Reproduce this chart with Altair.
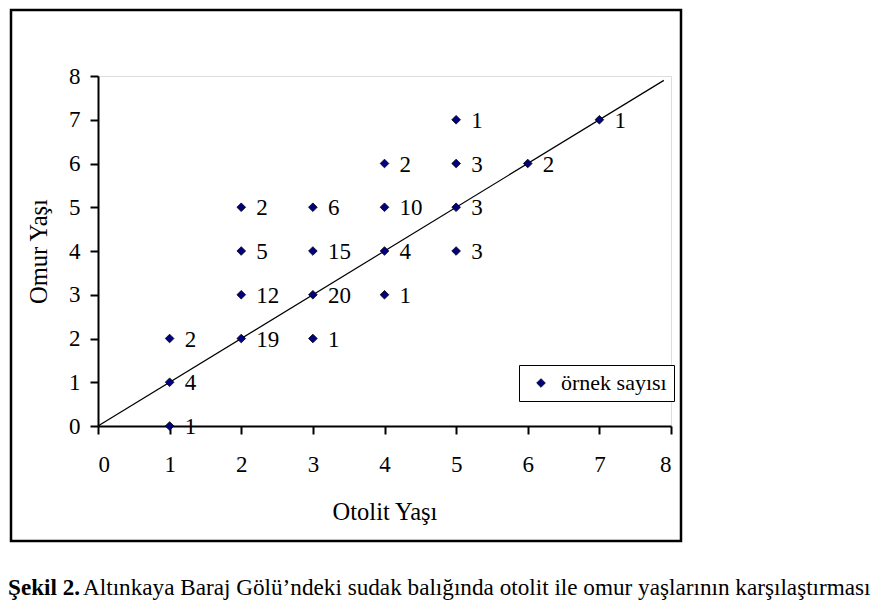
import altair as alt
import pandas as pd

otolit = [1, 1, 1, 2, 2, 2, 2, 3, 3, 3, 3, 4, 4, 4, 4, 5, 5, 5, 5, 6, 7]
omur   = [0, 1, 2, 2, 3, 4, 5, 2, 3, 4, 5, 3, 4, 5, 6, 4, 5, 6, 7, 6, 7]
sayi   = [1, 4, 2, 19, 12, 5, 2, 1, 20, 15, 6, 1, 4, 10, 2, 3, 3, 3, 1, 2, 1]
line_x = [0, 7.9]
line_y = [0, 7.9]
ticks = [0, 1, 2, 3, 4, 5, 6, 7, 8]
series_name = "örnek sayısı"
caption_bold = "Şekil 2."
caption_rest = "Altınkaya Baraj Gölü’ndeki sudak balığında otolit ile omur yaşlarının karşılaştırması"

FONT = "Liberation Serif"
FS = 23
TFS = 24.5
CFS = 23.2

df = pd.DataFrame({"x": otolit, "y": omur, "n": sayi, "s": [series_name] * len(otolit)})
ldf = pd.DataFrame({"x": line_x, "y": line_y})

xs = alt.Scale(domain=[0, 8], nice=False, zero=False)
ys = alt.Scale(domain=[0, 8], nice=False, zero=False)

xax = alt.Axis(values=ticks, grid=False, domainColor="black", domainWidth=2, tickColor="black",
               tickWidth=2, tickSize=8, labelFont=FONT, labelFontSize=FS, labelColor="black",
               labelPadding=19, titleFont=FONT, titleFontSize=TFS, titleFontWeight="normal",
               titleColor="black", titlePadding=24, format="d")
yax = alt.Axis(values=ticks, grid=False, domainColor="black", domainWidth=2, tickColor="black",
               tickWidth=2, tickSize=8, labelFont=FONT, labelFontSize=FS, labelColor="black",
               labelPadding=10, titleFont=FONT, titleFontSize=TFS, titleFontWeight="normal",
               titleColor="black", titlePadding=17, format="d")

frame = alt.Chart(pd.DataFrame({"a": [0]})).mark_rect(
    fill=None, stroke="black", strokeWidth=2.5
).encode(x=alt.value(-87), x2=alt.value(583), y=alt.value(-66), y2=alt.value(465))

line = alt.Chart(ldf).mark_line(color="black", strokeWidth=1.2).encode(
    x=alt.X("x:Q", scale=xs, axis=xax, title="Otolit Yaşı"),
    y=alt.Y("y:Q", scale=ys, axis=yax, title="Omur Yaşı"),
)

pts = alt.Chart(df).mark_point(shape="diamond", filled=True, size=75, opacity=1,
                               stroke="black", strokeWidth=0.8).encode(
    x=alt.X("x:Q", scale=xs),
    y=alt.Y("y:Q", scale=ys),
    color=alt.Color("s:N", scale=alt.Scale(range=["#000080"]),
                    legend=alt.Legend(title=None, orient="none", legendX=421, legendY=289,
                                      strokeColor="black", fillColor="white", padding=7,
                                      labelFont=FONT, labelFontSize=22, labelColor="black",
                                      symbolType="diamond", symbolSize=75, symbolOffset=4,
                                      symbolStrokeColor="black", symbolStrokeWidth=0.8,
                                      symbolFillColor="#000080", labelOffset=9)),
)

labels = alt.Chart(df).mark_text(align="left", baseline="middle", dx=15, dy=1,
                                 font=FONT, fontSize=FS, color="black").encode(
    x=alt.X("x:Q", scale=xs),
    y=alt.Y("y:Q", scale=ys),
    text="n:Q",
)

cap1 = alt.Chart(pd.DataFrame({"a": [0]})).mark_text(
    align="left", baseline="alphabetic", font=FONT, fontSize=CFS, fontWeight="bold", color="black"
).encode(x=alt.value(-90), y=alt.value(519), text=alt.value(caption_bold))
cap2 = alt.Chart(pd.DataFrame({"a": [0]})).mark_text(
    align="left", baseline="alphabetic", font=FONT, fontSize=CFS, color="black"
).encode(x=alt.value(-15), y=alt.value(519), text=alt.value(caption_rest))

chart = alt.layer(frame, line, pts, labels, cap1, cap2).properties(
    width=573, height=350,
    autosize=alt.AutoSizeParams(type="none"),
    padding={"left": 90, "top": 68, "right": 208, "bottom": 174},
).configure_view(stroke=None).configure(background="white")

chart.save("out.html", embed_options={"renderer": "svg", "actions": False})
